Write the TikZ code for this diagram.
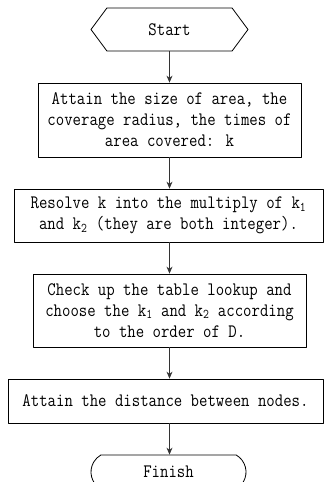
\documentclass[tikz,border=0pt]{standalone}
\usepackage{fontspec}
\setmainfont{Latin Modern Mono}[FakeStretch=0.86]
\usetikzlibrary{shapes.symbols,shapes.misc,arrows.meta}
\begin{document}
\begin{tikzpicture}[x=1pt,y=-1pt,line join=round,>={Stealth[length=7pt,width=6pt]},
  every node/.style={font=\fontsize{19}{21}\selectfont},
  box/.style={draw,line width=.8pt,align=center,inner sep=0pt},
  link/.style={->,line width=.9pt,black!80}]
\useasboundingbox (0,0) rectangle (324,482);
\node[box,signal,signal to=west and east,signal pointer angle=107,
  minimum width=157pt,minimum height=43pt] (start) at (169.5,29.5) {Start};
\node[box,minimum width=263pt,minimum height=74pt] (size) at (169.5,120)
  {Attain the size of area, the\\coverage radius, the times of\\area covered: k};
\node[box,minimum width=309pt,minimum height=53pt] (resolve) at (168.5,215.5)
  {Resolve k into the multiply of k\textsubscript{1}\\and k\textsubscript{2} (they are both integer).};
\node[box,minimum width=273pt,minimum height=73pt] (lookup) at (169.5,310.5)
  {Check up the table lookup and\\choose the k\textsubscript{1} and k\textsubscript{2} according\\to the order of D.};
\node[box,minimum width=315pt,minimum height=44pt] (dist) at (165.5,401)
  {Attain the distance between nodes.};
\node[box,rounded rectangle,rounded rectangle arc length=120,
  minimum width=155pt,minimum height=34pt] (finish) at (168.5,472) {Finish};
%arrows
\draw[link] (start.south)--(start.south|-size.north);
\draw[link] (start.south|-size.south)--(start.south|-resolve.north);
\draw[link] (start.south|-resolve.south)--(start.south|-lookup.north);
\draw[link] (start.south|-lookup.south)--(start.south|-dist.north);
\draw[link] (start.south|-dist.south)--(start.south|-finish.north);
\end{tikzpicture}
\end{document}
